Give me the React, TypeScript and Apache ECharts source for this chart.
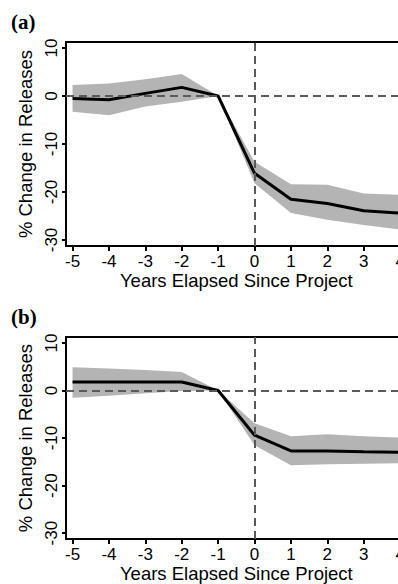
import React, { useEffect, useRef } from "react";
import * as echarts from "echarts";

const years = [-5, -4, -3, -2, -1, 0, 1, 2, 3, 4];
const xTicks = [-5, -4, -3, -2, -1, 0, 1, 2, 3, 4];
const yTicks = [-30, -20, -10, 0, 10];

const meanA = [-0.5, -0.8, 0.55, 1.8, 0, -16.1, -21.5, -22.4, -23.9, -24.4];
const upperA = [2.3, 2.6, 3.5, 4.6, 0, -13.7, -18.4, -18.5, -20.3, -20.6];
const lowerA = [-3.3, -4.0, -2.2, -1.2, 0, -18.2, -24.4, -25.8, -26.9, -27.8];

const meanB = [1.8, 1.8, 1.8, 1.8, 0, -9.4, -12.7, -12.7, -12.9, -13.0];
const upperB = [4.9, 4.6, 4.3, 3.9, 0, -6.9, -9.6, -9.2, -9.6, -9.9];
const lowerB = [-1.5, -1.1, -0.6, -0.1, 0, -11.5, -15.7, -15.5, -15.4, -15.3];

const panels = [
  { label: "(a)", mean: meanA, upper: upperA, lower: lowerA },
  { label: "(b)", mean: meanB, upper: upperB, lower: lowerB },
];

const FONT = "Liberation Sans, Arial, sans-serif";

export default function App() {
  const ref = useRef<HTMLDivElement>(null);
  useEffect(() => {
    if (!ref.current) return;
    const chart = echarts.init(ref.current, null, { renderer: "svg" });
    const gridTops = [42, 337];
    const gridH = [204, 203];
    const labelY = [23.5, 318.5];

    const grids: any[] = [];
    const xAxes: any[] = [];
    const yAxes: any[] = [];
    const series: any[] = [];
    const graphics: any[] = [];

    panels.forEach((p, i) => {
      grids.push({
        left: 66,
        top: gridTops[i],
        height: gridH[i],
        right: 3.3,
        show: true,
        borderColor: "#000",
        borderWidth: 2,
        backgroundColor: "transparent",
        containLabel: false,
      });
      xAxes.push({
        type: "value",
        gridIndex: i,
        min: -5.18,
        max: 4.18,
        splitLine: { show: false },
        axisLine: { show: true, onZero: false, lineStyle: { color: "#000", width: 2 } },
        axisTick: {
          show: true,
          length: 5,
          customValues: xTicks,
          lineStyle: { color: "#000", width: 2 },
        },
        axisLabel: {
          customValues: xTicks,
          color: "#000",
          fontFamily: FONT,
          fontSize: 17,
          margin: 7,
          formatter: (v: number) => String(v),
        },
        name: "Years Elapsed Since Project",
        nameLocation: "middle",
        nameGap: 23,
        nameTextStyle: { color: "#000", fontFamily: FONT, fontSize: 18.5 },
      });
      yAxes.push({
        type: "value",
        gridIndex: i,
        min: -31.25,
        max: 11.25,
        splitLine: { show: false },
        axisLine: { show: true, onZero: false, lineStyle: { color: "#000", width: 2 } },
        axisTick: {
          show: true,
          length: 4,
          customValues: yTicks,
          lineStyle: { color: "#000", width: 2 },
        },
        axisLabel: {
          customValues: yTicks,
          rotate: 90,
          color: "#000",
          fontFamily: FONT,
          fontSize: 17,
          margin: 6,
          formatter: (v: number) => String(v),
        },
        name: "% Change in Releases",
        nameLocation: "middle",
        nameRotate: 90,
        nameGap: 21,
        nameTextStyle: { color: "#000", fontFamily: FONT, fontSize: 18.5 },
      });

      // reference lines (below band)
      series.push({
        type: "line",
        xAxisIndex: i,
        yAxisIndex: i,
        data: years.map((x, k) => [x, p.mean[k]]),
        lineStyle: { width: 0, opacity: 0 },
        showSymbol: false,
        symbol: "none",
        z: 1,
        markLine: {
          silent: true,
          symbol: "none",
          label: { show: false },
          lineStyle: { color: "#5a5a5a", type: [8, 5], width: 2 },
          data: [{ xAxis: 0 }, { yAxis: 0 }],
        },
      });

      // confidence band
      series.push({
        type: "custom",
        xAxisIndex: i,
        yAxisIndex: i,
        z: 2,
        encode: { x: 0, y: [1, 2] },
        data: years.map((x, k) => [x, p.lower[k], p.upper[k]]),
        renderItem: (params: any, api: any) => {
          if (params.dataIndex !== 0) return null;
          const top = years.map((x, k) => api.coord([x, p.upper[k]]));
          const bot = years.map((x, k) => api.coord([x, p.lower[k]])).reverse();
          return {
            type: "polygon",
            shape: { points: top.concat(bot) },
            style: { fill: "#b4b4b4", stroke: "none" },
          };
        },
      });

      // mean line
      series.push({
        type: "line",
        xAxisIndex: i,
        yAxisIndex: i,
        data: years.map((x, k) => [x, p.mean[k]]),
        lineStyle: { color: "#000", width: 3 },
        symbol: "none",
        z: 3,
      });

      graphics.push({
        type: "text",
        left: 11,
        top: labelY[i] - 12,
        style: {
          text: p.label,
          fill: "#000",
          font: "bold 21px 'Liberation Serif', 'Times New Roman', serif",
        },
      });
    });

    chart.setOption({
      animation: false,
      backgroundColor: "#fff",
      grid: grids,
      xAxis: xAxes,
      yAxis: yAxes,
      series,
      graphic: graphics,
    });
    return () => chart.dispose();
  }, []);
  return (
    <div
      style={{
        position: "absolute",
        left: 0,
        top: 0,
        width: 398,
        height: 584,
        overflow: "hidden",
        background: "#fff",
      }}
    >
      <div ref={ref} style={{ width: 410, height: 584 }} />
    </div>
  );
}
